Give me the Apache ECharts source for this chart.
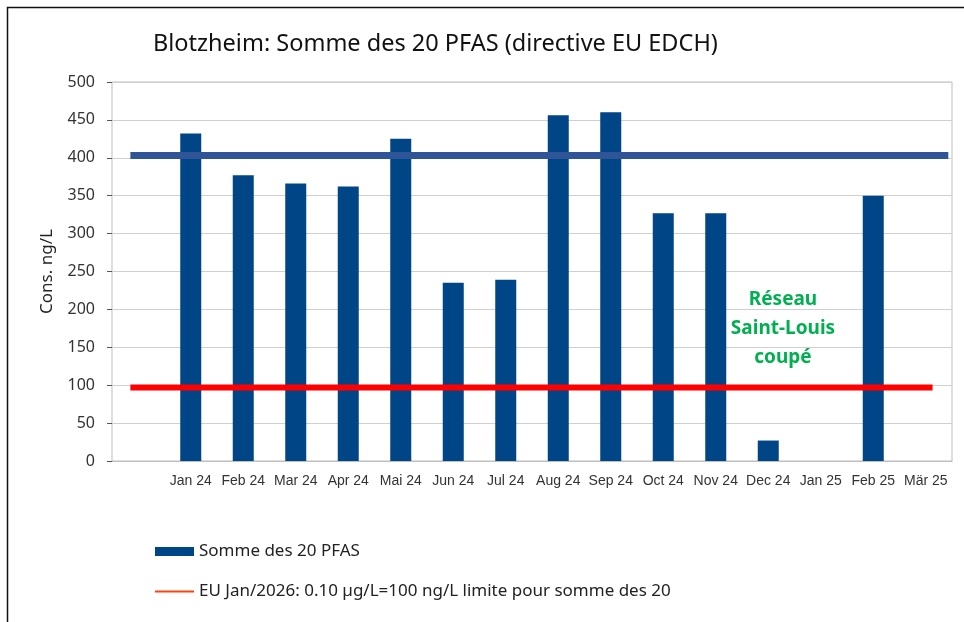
<!DOCTYPE html>
<html>
<head>
<meta charset="utf-8">
<script src="https://cdn.jsdelivr.net/npm/echarts@6/dist/echarts.min.js"></script>
<style>
  html, body { margin: 0; padding: 0; background: #fff; }
  #main { width: 964px; height: 622px; }
</style>
</head>
<body>
<div id="main"></div>
<script>
// data
const categories = ['', 'Jan 24', 'Feb 24', 'Mar 24', 'Apr 24', 'Mai 24', 'Jun 24', 'Jul 24',
  'Aug 24', 'Sep 24', 'Oct 24', 'Nov 24', 'Dec 24', 'Jan 25', 'Feb 25', 'Mär 25'];
const pfasValues = [null, 432, 377, 366, 362, 425, 235, 239, 456, 460, 327, 327, 27, null, 350, null];
const blueLine = [[0.35, 403], [15.93, 403]];
const euLimit = [[0.35, 97], [15.63, 97]];
const yTicks = { min: 0, max: 500, interval: 50 };

const chart = echarts.init(document.getElementById('main'));

chart.setOption({
  animation: false,
  title: {
    text: 'Blotzheim: Somme des 20 PFAS (directive EU EDCH)',
    left: 148, top: 27,
    textStyle: { fontFamily: 'Noto Sans', fontSize: 23.5, fontWeight: 'normal', color: '#111' }
  },
  legend: [{
    orient: 'vertical', left: 150, top: 538,
    data: [{ name: 'Somme des 20 PFAS', icon: 'rect' }],
    itemWidth: 39, itemHeight: 9,
    textStyle: { fontFamily: 'Noto Sans', fontSize: 17, color: '#222' }
  }, {
    orient: 'vertical', left: 150, top: 578,
    data: [{ name: 'EU Jan/2026: 0.10 µg/L=100 ng/L limite pour somme des 20', icon: 'rect', itemStyle: { color: '#ff420e' } }],
    itemWidth: 39, itemHeight: 2,
    textStyle: { fontFamily: 'Noto Sans', fontSize: 17, color: '#222' }
  }],
  grid: {
    left: 112, top: 82, right: 12, bottom: 161,
    show: true, borderColor: '#bfbfbf', borderWidth: 1
  },
  xAxis: [{
    type: 'category',
    data: categories,
    axisTick: { show: false },
    axisLine: { lineStyle: { color: '#bfbfbf' } },
    axisLabel: { fontFamily: 'Liberation Sans', fontSize: 14, color: '#333', margin: 13, interval: 0 }
  }, {
    type: 'value', min: 0, max: 16, show: false
  }],
  yAxis: {
    type: 'value',
    min: yTicks.min, max: yTicks.max, interval: yTicks.interval,
    name: 'Cons. ng/L',
    nameLocation: 'middle', nameGap: 56, nameRotate: 90,
    nameTextStyle: { fontFamily: 'Noto Sans', fontSize: 17, color: '#222' },
    axisLabel: { fontFamily: 'Noto Sans', fontSize: 16, color: '#333', margin: 17 },
    splitLine: { lineStyle: { color: '#d0d0d0' } },
    axisLine: { show: false }
  },
  series: [{
    name: 'Somme des 20 PFAS',
    type: 'bar',
    data: pfasValues,
    barWidth: 21,
    itemStyle: { color: '#004586' }
  }, {
    name: 'blue',
    type: 'line',
    xAxisIndex: 1,
    data: blueLine,
    symbol: 'none',
    lineStyle: { color: '#2f5597', width: 7, cap: 'butt' },
    z: 3
  }, {
    name: 'EU Jan/2026: 0.10 µg/L=100 ng/L limite pour somme des 20',
    type: 'line',
    xAxisIndex: 1,
    data: euLimit,
    symbol: 'none',
    itemStyle: { color: '#ff420e' },
    lineStyle: { color: '#ff0000', width: 6, cap: 'butt' },
    z: 4
  }],
  graphic: [{
    type: 'polyline',
    shape: { points: [[7.5, 622], [7.5, 7.5], [964, 7.5]] },
    style: { stroke: '#111', lineWidth: 1.5, fill: null }
  }, {
    type: 'text',
    x: 783, y: 285,
    style: {
      text: 'Réseau\nSaint-Louis\ncoupé',
      align: 'center',
      font: 'bold 19px "Noto Sans"',
      lineHeight: 29,
      fill: '#00b050'
    }
  }]
});
</script>
</body>
</html>
